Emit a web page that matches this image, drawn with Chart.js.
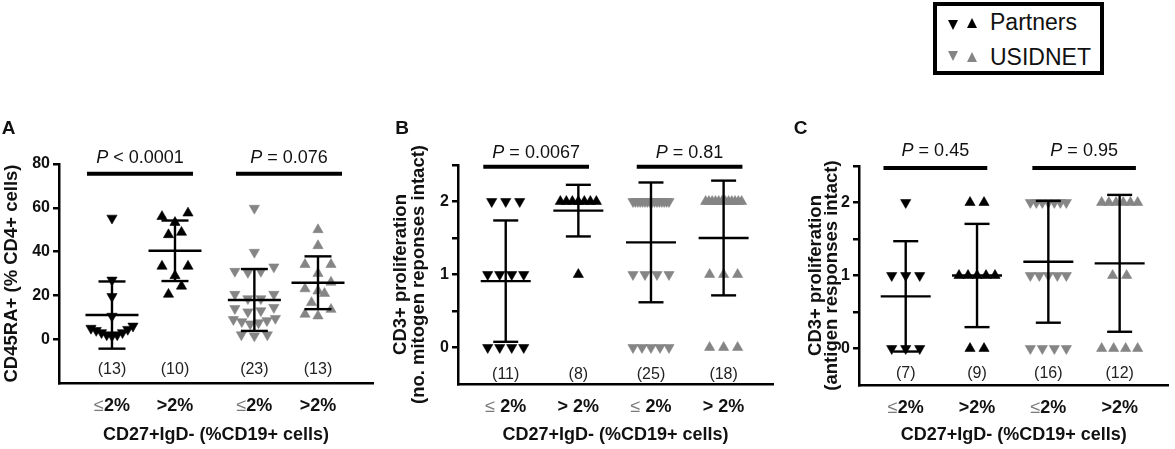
<!DOCTYPE html>
<html>
<head>
<meta charset="utf-8">
<script src="https://cdn.jsdelivr.net/npm/chart.js@4.4.1/dist/chart.umd.min.js"></script>
<style>
  html, body { margin: 0; padding: 0; background: #fff; }
  body { width: 1175px; height: 449px; position: relative; overflow: hidden;
         font-family: "Liberation Sans", Arial, Helvetica, sans-serif; }
  canvas { position: absolute; top: 0; }
  #legend { position: absolute; left: 933px; top: 2px; width: 163px; height: 65px;
            border: 4px solid #000; background: #fff; z-index: 5; }
  .tri { position: absolute; width: 0; height: 0;
         border-left: 5px solid transparent; border-right: 5px solid transparent; }
  .down { border-top: 10px solid #000; }
  .up { border-bottom: 10px solid #000; }
  .ltxt { position: absolute; left: 53px; font-size: 23px; line-height: 23px; color: #111; white-space: nowrap; }
</style>
</head>
<body>
<canvas id="cA" width="390" height="449" style="left:0px"></canvas>
<canvas id="cB" width="390" height="449" style="left:390px"></canvas>
<canvas id="cC" width="395" height="449" style="left:780px"></canvas>

<div id="legend">
  <span class="tri down" style="left:11px;top:14px;border-top-color:#000"></span>
  <span class="tri up" style="left:30px;top:12px;border-bottom-color:#000"></span>
  <span class="ltxt" style="top:5px">Partners</span>
  <span class="tri down" style="left:11px;top:45px;border-top-color:#858585"></span>
  <span class="tri up" style="left:30px;top:46px;border-bottom-color:#858585"></span>
  <span class="ltxt" style="top:40px">USIDNET</span>
</div>

<script>
// ---------------- DATA ----------------
const cohorts = ['Partners', 'Partners', 'USIDNET', 'USIDNET'];
const xLabelsA = ['≤2%', '>2%', '≤2%', '>2%'];
const xLabelsB = ['≤ 2%', '> 2%', '≤ 2%', '> 2%'];
const xLabelsC = ['≤2%', '>2%', '≤2%', '>2%'];
const xAxisTitle = 'CD27+IgD- (%CD19+ cells)';

const yTicksA = [0, 20, 40, 60, 80];
const yTicksBC = [0, 0.5, 1, 1.5, 2, 2.5];

// Panel A: CD45RA+ (% CD4+ cells)
const cd45raPartnersLow  = [55.3, 27, 19.5, 10.5, 6, 5, 4, 3, 2, 1.5, 2, 3, 4.5];
const cd45raPartnersHigh = [56, 57.6, 53.3, 47.7, 48.8, 33.3, 33.3, 29, 20.5, 24.2];
const cd45raUsidnetLow   = [59.8, 39.7, 33, 31, 31, 30.5, 20.5, 18.5, 18.5, 20.5,
                            14.5, 14, 13, 12.5, 9.5, 9, 8.5, 8, 7.5, 7, 2, 1.5, 2];
const cd45raUsidnetHigh  = [50, 42.7, 34.1, 34.1, 30, 26, 23, 22, 20.9, 16.7, 13.6, 11.4, 10.6];
const pTextA = ['< 0.0001', '= 0.076'];

// Panel B: no. mitogen responses intact
const mitogenPartnersLow  = [2, 2, 2, 1, 1, 1, 1, 0, 0, 0, 0];
const mitogenPartnersHigh = [2, 2, 2, 2, 2, 2, 2, 1];
const mitogenUsidnetLow   = [2, 2, 2, 2, 2, 2, 2, 2, 2, 2, 2, 2, 2, 2, 2, 2, 1, 1, 1, 1, 0, 0, 0, 0, 0];
const mitogenUsidnetHigh  = [2, 2, 2, 2, 2, 2, 2, 2, 2, 2, 2, 2, 1, 1, 1, 0, 0, 0];
const pTextB = ['= 0.0067', '= 0.81'];

// Panel C: no. antigen responses intact
const antigenPartnersLow  = [2, 1, 1, 1, 0, 0, 0];
const antigenPartnersHigh = [2, 2, 1, 1, 1, 1, 1, 0, 0];
const antigenUsidnetLow   = [2, 2, 2, 2, 2, 2, 2, 1, 1, 1, 1, 1, 0, 0, 0, 0];
const antigenUsidnetHigh  = [2, 2, 2, 2, 2, 2, 1, 1, 0, 0, 0, 0];
const pTextC = ['= 0.45', '= 0.95'];

// ---------------- STYLE / LAYOUT ----------------
const FONT = '"Liberation Sans", Arial, Helvetica, sans-serif';
const BLACK = '#000000';
const GRAY = '#858585';
const groupColors = [BLACK, BLACK, GRAY, GRAY];
const groupDown = [true, false, true, false];

function mean(a) { return a.reduce((s, v) => s + v, 0) / a.length; }
function sd(a) { const m = mean(a); return Math.sqrt(a.reduce((s, v) => s + (v - m) * (v - m), 0) / (a.length - 1)); }

const panels = [
  { id: 'cA', letter: 'A', letterX: 8.5, groups: [cd45raPartnersLow, cd45raPartnersHigh, cd45raUsidnetLow, cd45raUsidnetHigh],
    xLabels: xLabelsA, pText: pTextA, pos: [1, 2, 3.26, 4.27], xmin: 0.159, xmax: 5.143,
    ymin: -20, ymax: 80, yTicks: yTicksA, yTitle: 'CD45RA+ (% CD4+ cells)', titleLH: 1.2, titlePad: 0.5,
    yW: 59, padR: 17, padT: 164, xH: 66, meanHalf: 26.5, capHalf: 13.5,
    bars: [[0.603, 2.286], [2.968, 4.651]], barY: 75.5, pY: 82.6, countDy: -13,
    binH: 5, spacing: 13, maxSpan: 42 },
  { id: 'cB', letter: 'B', letterX: 12, groups: [mitogenPartnersLow, mitogenPartnersHigh, mitogenUsidnetLow, mitogenUsidnetHigh],
    xLabels: xLabelsB, pText: pTextB, pos: [1, 2, 3, 4], xmin: 0.343, xmax: 4.68,
    ymin: -0.5, ymax: 2.5, yTicks: yTicksBC, yTitle: ['CD3+ proliferation', '(no. mitogen reponses intact)'], titleLH: 1.0, titlePad: 1.2,
    yW: 68, padR: 7, padT: 165, xH: 65, meanHalf: 25, capHalf: 12.5,
    bars: [[0.691, 2.147], [2.804, 4.259]], barY: 2.477, pY: 2.668, countDy: -9,
    binH: 0.01, spacing: 14, maxSpan: 36 },
  { id: 'cC', letter: 'C', letterX: 20.5, groups: [antigenPartnersLow, antigenPartnersHigh, antigenUsidnetLow, antigenUsidnetHigh],
    xLabels: xLabelsC, pText: pTextC, pos: [1, 2, 3, 4], xmin: 0.345, xmax: 4.685,
    ymin: -0.5, ymax: 2.5, yTicks: yTicksBC, yTitle: ['CD3+ proliferation', '(antigen responses intact)'], titleLH: 16 / 18.5, titlePad: 27.5,
    yW: 79, padR: 0, padT: 166, xH: 64, meanHalf: 25, capHalf: 12.5,
    bars: [[0.688, 2.144], [2.776, 4.228]], barY: 2.474, pY: 2.70, countDy: -11,
    binH: 0.01, spacing: 14, maxSpan: 36 }
];

function decorPlugin(cfg) {
  return {
    id: 'decor' + cfg.letter,
    afterDatasetsDraw(chart) {
      const { ctx, scales: { x, y } } = chart;
      ctx.save();
      ctx.strokeStyle = BLACK;
      ctx.lineWidth = 2.4;
      ctx.lineCap = 'butt';
      const seg = (x1, y1, x2, y2) => { ctx.beginPath(); ctx.moveTo(x1, y1); ctx.lineTo(x2, y2); ctx.stroke(); };
      cfg.groups.forEach((vals, i) => {
        const m = mean(vals), s = sd(vals);
        const cx = x.getPixelForValue(cfg.pos[i]);
        const ym = y.getPixelForValue(m), yt = y.getPixelForValue(m + s), yb = y.getPixelForValue(m - s);
        seg(cx, yt, cx, yb);
        seg(cx - cfg.capHalf, yt, cx + cfg.capHalf, yt);
        seg(cx - cfg.capHalf, yb, cx + cfg.capHalf, yb);
        seg(cx - cfg.meanHalf, ym, cx + cfg.meanHalf, ym);
      });
      ctx.restore();
    },
    afterDraw(chart) {
      const { ctx, scales: { x, y }, chartArea } = chart;
      ctx.save();
      ctx.textBaseline = 'middle';
      // P-value bars and labels
      cfg.bars.forEach((b, k) => {
        const x1 = x.getPixelForValue(b[0]), x2 = x.getPixelForValue(b[1]);
        const by = y.getPixelForValue(cfg.barY);
        ctx.strokeStyle = BLACK; ctx.lineWidth = 4; ctx.lineCap = 'butt';
        ctx.beginPath(); ctx.moveTo(x1, by); ctx.lineTo(x2, by); ctx.stroke();
        const fI = 'italic 18px ' + FONT, fN = '18px ' + FONT;
        const rest = ' ' + cfg.pText[k];
        ctx.font = fI; const wP = ctx.measureText('P').width;
        ctx.font = fN; const wR = ctx.measureText(rest).width;
        const cx = (x1 + x2) / 2, ty = y.getPixelForValue(cfg.pY);
        let sx = cx - (wP + wR) / 2;
        ctx.fillStyle = '#111'; ctx.textAlign = 'left';
        ctx.font = fI; ctx.fillText('P', sx, ty);
        ctx.font = fN; ctx.fillText(rest, sx + wP, ty);
      });
      // counts and category labels
      cfg.groups.forEach((vals, i) => {
        const cx = x.getPixelForValue(cfg.pos[i]);
        ctx.textAlign = 'center';
        ctx.font = '16px ' + FONT; ctx.fillStyle = '#222';
        ctx.fillText('(' + vals.length + ')', cx, chartArea.bottom + cfg.countDy);
        const lab = cfg.xLabels[i];
        const ly = chartArea.bottom + 23;
        let parts;
        if (lab.startsWith('≤')) parts = [{ t: '≤', f: '18px ' + FONT, c: '#7a7a7a' }, { t: lab.slice(1), f: 'bold 18px ' + FONT, c: '#111' }];
        else parts = [{ t: lab, f: 'bold 18px ' + FONT, c: '#111' }];
        let tw = 0;
        parts.forEach(p => { ctx.font = p.f; p.w = ctx.measureText(p.t).width; tw += p.w; });
        let sx = cx - tw / 2;
        ctx.textAlign = 'left';
        parts.forEach(p => { ctx.font = p.f; ctx.fillStyle = p.c; ctx.fillText(p.t, sx, ly); sx += p.w; });
      });
      // panel letter
      ctx.textAlign = 'center'; ctx.font = 'bold 19px ' + FONT; ctx.fillStyle = '#111';
      ctx.fillText(cfg.letter, cfg.letterX, 128.5);
      ctx.restore();
    }
  };
}

function arrangeRows(chart, cfg) {
  const xs = chart.scales.x;
  chart.data.datasets.forEach((ds, i) => {
    const vals = cfg.groups[i];
    const order = vals.map((v, j) => j).sort((a, b) => vals[a] - vals[b] || a - b);
    const offs = new Array(vals.length).fill(0);
    let k = 0;
    while (k < order.length) {
      const start = vals[order[k]];
      let e = k;
      while (e < order.length && vals[order[e]] - start <= cfg.binH + 1e-9) e++;
      const n = e - k;
      const sp = n > 1 ? Math.min(cfg.spacing, cfg.maxSpan / (n - 1)) : 0;
      const slots = [];
      for (let q = 0; q < n; q++) slots.push(q - (n - 1) / 2);
      slots.sort((a, b) => Math.abs(a) - Math.abs(b) || a - b);
      for (let q = 0; q < n; q++) offs[order[k + q]] = slots[q] * sp;
      k = e;
    }
    const cx = xs.getPixelForValue(cfg.pos[i]);
    ds.data = vals.map((v, j) => ({ x: xs.getValueForPixel(cx + offs[j]), y: v }));
  });
  chart.update('none');
}

panels.forEach(cfg => {
  const datasets = cfg.groups.map((vals, i) => ({
    label: cohorts[i] + ' ' + cfg.xLabels[i],
    data: vals.map(v => ({ x: cfg.pos[i], y: v })),
    pointStyle: 'triangle',
    rotation: groupDown[i] ? 180 : 0,
    pointRadius: 5.9,
    pointHoverRadius: 5.9,
    backgroundColor: groupColors[i],
    borderColor: groupColors[i],
    borderWidth: 0.6,
    showLine: false
  }));
  const chart = new Chart(document.getElementById(cfg.id), {
    type: 'scatter',
    data: { datasets },
    plugins: [decorPlugin(cfg)],
    options: {
      responsive: false,
      animation: false,
      events: [],
      layout: { padding: { top: cfg.padT, right: cfg.padR, bottom: 0, left: 0 } },
      plugins: { legend: { display: false }, tooltip: { enabled: false } },
      scales: {
        x: {
          type: 'linear', position: 'bottom', min: cfg.xmin, max: cfg.xmax,
          ticks: { display: false },
          grid: { display: false, drawTicks: false },
          border: { display: true, color: BLACK, width: 2.5 },
          title: { display: true, text: xAxisTitle, color: '#111',
                   font: { family: FONT, size: 18, weight: 'bold', lineHeight: 1.2 },
                   padding: { top: 0, bottom: 3 } },
          afterFit: s => { s.height = cfg.xH; }
        },
        y: {
          type: 'linear', position: 'left', min: cfg.ymin, max: cfg.ymax,
          afterBuildTicks: s => { s.ticks = cfg.yTicks.map(v => ({ value: v })); },
          ticks: { color: '#111', padding: 3, font: { family: FONT, size: 16, weight: 'bold' },
                   callback: v => (Number.isInteger(v) ? String(v) : '') },
          grid: { display: true, drawOnChartArea: false, drawTicks: true, tickLength: 6, color: BLACK, lineWidth: 2.5 },
          border: { display: true, color: BLACK, width: 2.5 },
          title: { display: true, text: cfg.yTitle, color: '#111',
                   font: { family: FONT, size: 18.5, weight: 'bold', lineHeight: cfg.titleLH },
                   padding: { top: cfg.titlePad, bottom: 0 } },
          afterFit: s => { s.width = cfg.yW; }
        }
      }
    }
  });
  arrangeRows(chart, cfg);
});
</script>
</body>
</html>
